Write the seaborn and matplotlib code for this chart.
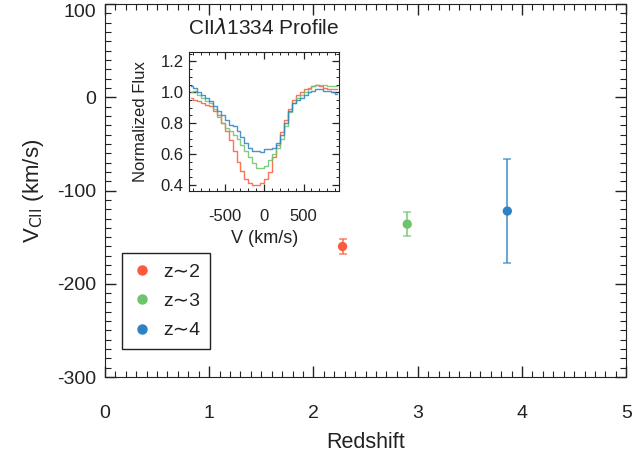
import numpy as np
import pandas as pd
import matplotlib
matplotlib.use("Agg")
import matplotlib.pyplot as plt
import seaborn as sns
from matplotlib.lines import Line2D
from matplotlib.ticker import MultipleLocator, FormatStrFormatter

# main panel data
labels = ["z~2", "z~3", "z~4"]
redshift = [2.28, 2.90, 3.86]
v_cii = [-160, -136, -122]
v_err = [8.5, 13, 56]
colors = ["#fb5a3c", "#6cc46c", "#2f82c2"]

# inset spectra (velocity bin centres, km/s)
vel = [-925, -875, -825, -775, -725, -675, -625, -575, -525, -475, -425, -375,
       -325, -275, -225, -175, -125, -75, -25, 25, 75, 125, 175, 225, 275, 325,
       375, 425, 475, 525, 575, 625, 675, 725, 775, 825, 875, 925]
flux_z2 = [0.96, 0.95, 0.94, 0.93, 0.92, 0.91, 0.88, 0.85, 0.80, 0.75, 0.69, 0.62,
           0.55, 0.49, 0.44, 0.41, 0.40, 0.40, 0.41, 0.44, 0.48, 0.58, 0.66, 0.74,
           0.82, 0.89, 0.95, 0.98, 1.00, 1.02, 1.03, 1.04, 1.05, 1.04, 1.03, 1.02,
           1.02, 1.02]
flux_z3 = [1.00, 1.01, 0.98, 0.96, 0.94, 0.93, 0.89, 0.84, 0.80, 0.77, 0.75, 0.72,
           0.70, 0.66, 0.62, 0.58, 0.54, 0.51, 0.51, 0.52, 0.56, 0.60, 0.64, 0.70,
           0.78, 0.87, 0.93, 0.96, 0.98, 1.00, 1.02, 1.04, 1.05, 1.05, 1.05, 1.04,
           1.04, 1.04]
flux_z4 = [1.04, 1.03, 1.00, 0.98, 0.96, 0.94, 0.91, 0.88, 0.85, 0.82, 0.79, 0.78,
           0.75, 0.71, 0.67, 0.64, 0.62, 0.62, 0.61, 0.63, 0.63, 0.64, 0.67, 0.72,
           0.80, 0.88, 0.93, 0.95, 0.96, 0.98, 1.00, 1.01, 1.02, 1.02, 1.01, 1.01,
           1.00, 0.99]

sns.set_style("ticks")
plt.rcParams["font.family"] = ["Liberation Sans", "DejaVu Sans"]
plt.rcParams["axes.unicode_minus"] = False
plt.rcParams["text.color"] = "#222222"
plt.rcParams["axes.labelcolor"] = "#222222"

fig = plt.figure(figsize=(6.39, 4.51), dpi=100)
ax = fig.add_axes([0.164, 0.164, 0.816, 0.827])

pts = pd.DataFrame({"z": redshift, "v": v_cii, "err": v_err, "sample": labels})
for i in range(len(labels)):
    ax.errorbar(redshift[i], v_cii[i], yerr=v_err[i], fmt="none",
                ecolor=colors[i], alpha=0.7, elinewidth=1.5, capsize=3, capthick=1.2)
sns.scatterplot(data=pts, x="z", y="v", hue="sample", palette=colors, s=45,
                edgecolor="none", legend=False, ax=ax, zorder=3)

ax.set_xlim(0, 5)
ax.set_ylim(-300, 100)
ax.xaxis.set_major_locator(MultipleLocator(1))
ax.xaxis.set_minor_locator(MultipleLocator(0.1))
ax.yaxis.set_major_locator(MultipleLocator(100))
ax.yaxis.set_minor_locator(MultipleLocator(10))
ax.tick_params(which="both", direction="in", top=True, right=True, color="#222222")
ax.tick_params(which="major", length=8, width=1, labelsize=14, labelcolor="#222222")
ax.tick_params(axis="x", which="major", pad=20)
ax.tick_params(axis="y", which="major", pad=6)
ax.tick_params(which="minor", length=4, width=0.8)
for sp in ax.spines.values():
    sp.set_visible(True)
    sp.set_color("#222222")
ax.set_xlabel("Redshift", fontsize=15.5, labelpad=7)
ax.set_ylabel(r"V$_{\rm CII}$ (km/s)", fontsize=16, labelpad=8)
fig.canvas.draw()
for t in ax.get_yticklabels():
    if t.get_text() == "100":
        t.set_va("top")

handles = [Line2D([], [], marker="o", ls="none", color=c, markersize=6.5) for c in colors]
leg = ax.legend(handles, ["z\u223c2", "z\u223c3", "z\u223c4"], loc="lower left",
                bbox_to_anchor=(0.033, 0.075), borderaxespad=0, fontsize=14,
                fancybox=False, framealpha=1, edgecolor="#222222",
                handletextpad=0.5, borderpad=0.5, labelspacing=0.6, handlelength=1.1)
leg.get_frame().set_linewidth(1)

# inset
ins = fig.add_axes([0.296, 0.5765, 0.2347, 0.308])
spec = pd.DataFrame({"v": vel * 3,
                     "flux": flux_z2 + flux_z3 + flux_z4,
                     "sample": ["z~2"] * len(vel) + ["z~3"] * len(vel) + ["z~4"] * len(vel)})
sns.lineplot(data=spec, x="v", y="flux", hue="sample", palette=colors,
             drawstyle="steps-mid", lw=1.0, alpha=0.85, legend=False, ax=ins)
ins.set_xlim(-950, 950)
ins.set_ylim(0.36, 1.26)
ins.xaxis.set_major_locator(MultipleLocator(500))
ins.xaxis.set_minor_locator(MultipleLocator(100))
ins.yaxis.set_major_locator(MultipleLocator(0.2))
ins.yaxis.set_minor_locator(MultipleLocator(0.05))
ins.yaxis.set_major_formatter(FormatStrFormatter("%.1f"))
ins.tick_params(which="both", direction="in", top=True, right=True, color="#222222")
ins.tick_params(which="major", length=5, width=0.9, labelsize=12, labelcolor="#222222")
ins.tick_params(axis="x", which="major", pad=13)
ins.tick_params(axis="y", which="major", pad=4)
ins.tick_params(which="minor", length=2.5, width=0.7)
for sp in ins.spines.values():
    sp.set_visible(True)
    sp.set_color("#222222")
ins.set_xlabel("V (km/s)", fontsize=13, labelpad=4)
ins.set_ylabel("Normalized Flux", fontsize=12, labelpad=9)
fig.text(0.412, 0.938, r"CII$\lambda$1334 Profile", fontsize=15, ha="center", va="center",
         color="#222222")

fig.savefig("out.png", dpi=100)
